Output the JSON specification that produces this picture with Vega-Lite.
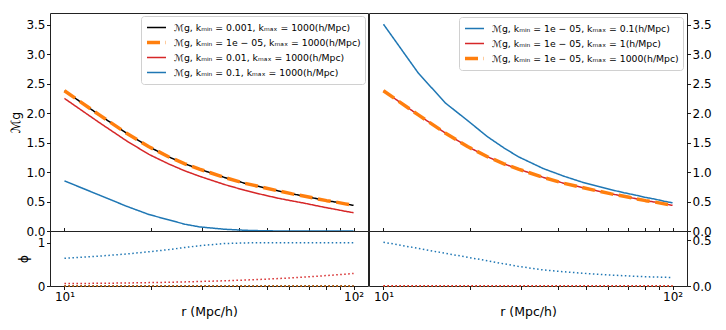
{
  "$schema": "https://vega.github.io/schema/vega-lite/v6.json",
  "padding": {"left": 9, "top": 12, "right": 5, "bottom": 5},
  "background": "white",
  "columns": 2,
  "bounds": "flush",
  "spacing": {"row": 0, "column": 1},
  "datasets": {
    "tl": [
      {"r":10,"s":"k3","v":2.38},{"r":13.2,"s":"k3","v":1.97},{"r":16.4,"s":"k3","v":1.66},{"r":19.6,"s":"k3","v":1.43},{"r":22.9,"s":"k3","v":1.26},{"r":26.1,"s":"k3","v":1.14},{"r":29.3,"s":"k3","v":1.05},{"r":35.7,"s":"k3","v":0.91},{"r":42.1,"s":"k3","v":0.81},{"r":48.6,"s":"k3","v":0.74},{"r":55,"s":"k3","v":0.68},{"r":61.4,"s":"k3","v":0.63},{"r":67.9,"s":"k3","v":0.59},{"r":74.3,"s":"k3","v":0.55},{"r":80.7,"s":"k3","v":0.515},{"r":87.1,"s":"k3","v":0.49},{"r":93.6,"s":"k3","v":0.46},{"r":100,"s":"k3","v":0.435},
      {"r":10,"s":"k5","v":2.38},{"r":13.2,"s":"k5","v":1.97},{"r":16.4,"s":"k5","v":1.66},{"r":19.6,"s":"k5","v":1.43},{"r":22.9,"s":"k5","v":1.26},{"r":26.1,"s":"k5","v":1.14},{"r":29.3,"s":"k5","v":1.05},{"r":35.7,"s":"k5","v":0.91},{"r":42.1,"s":"k5","v":0.81},{"r":48.6,"s":"k5","v":0.74},{"r":55,"s":"k5","v":0.68},{"r":61.4,"s":"k5","v":0.63},{"r":67.9,"s":"k5","v":0.59},{"r":74.3,"s":"k5","v":0.55},{"r":80.7,"s":"k5","v":0.515},{"r":87.1,"s":"k5","v":0.49},{"r":93.6,"s":"k5","v":0.46},{"r":100,"s":"k5","v":0.435},
      {"r":10,"s":"k2","v":2.25},{"r":13.2,"s":"k2","v":1.84},{"r":16.4,"s":"k2","v":1.53},{"r":19.6,"s":"k2","v":1.30},{"r":22.9,"s":"k2","v":1.14},{"r":26.1,"s":"k2","v":1.02},{"r":29.3,"s":"k2","v":0.93},{"r":35.7,"s":"k2","v":0.79},{"r":42.1,"s":"k2","v":0.69},{"r":48.6,"s":"k2","v":0.615},{"r":55,"s":"k2","v":0.555},{"r":61.4,"s":"k2","v":0.51},{"r":67.9,"s":"k2","v":0.47},{"r":74.3,"s":"k2","v":0.43},{"r":80.7,"s":"k2","v":0.395},{"r":87.1,"s":"k2","v":0.365},{"r":93.6,"s":"k2","v":0.335},{"r":100,"s":"k2","v":0.31},
      {"r":10,"s":"k1","v":0.85},{"r":13.2,"s":"k1","v":0.61},{"r":16.4,"s":"k1","v":0.42},{"r":19.6,"s":"k1","v":0.28},{"r":22.9,"s":"k1","v":0.19},{"r":26.1,"s":"k1","v":0.115},{"r":29.3,"s":"k1","v":0.07},{"r":35.7,"s":"k1","v":0.03},{"r":42.1,"s":"k1","v":0.012},{"r":48.6,"s":"k1","v":0.004},{"r":55,"s":"k1","v":0.001},{"r":61.4,"s":"k1","v":0},{"r":67.9,"s":"k1","v":0},{"r":74.3,"s":"k1","v":0},{"r":80.7,"s":"k1","v":0},{"r":87.1,"s":"k1","v":0},{"r":93.6,"s":"k1","v":0},{"r":100,"s":"k1","v":0}
    ],
    "tr": [
      {"r":10,"s":"m1","v":3.51},{"r":13.2,"s":"m1","v":2.68},{"r":16.4,"s":"m1","v":2.17},{"r":19.6,"s":"m1","v":1.87},{"r":22.9,"s":"m1","v":1.60},{"r":26.1,"s":"m1","v":1.41},{"r":29.3,"s":"m1","v":1.26},{"r":35.7,"s":"m1","v":1.06},{"r":42.1,"s":"m1","v":0.93},{"r":48.6,"s":"m1","v":0.83},{"r":55,"s":"m1","v":0.76},{"r":61.4,"s":"m1","v":0.70},{"r":67.9,"s":"m1","v":0.65},{"r":74.3,"s":"m1","v":0.61},{"r":80.7,"s":"m1","v":0.57},{"r":87.1,"s":"m1","v":0.54},{"r":93.6,"s":"m1","v":0.505},{"r":100,"s":"m1","v":0.478},
      {"r":10,"s":"m0","v":2.38},{"r":13.2,"s":"m0","v":1.97},{"r":16.4,"s":"m0","v":1.66},{"r":19.6,"s":"m0","v":1.43},{"r":22.9,"s":"m0","v":1.26},{"r":26.1,"s":"m0","v":1.14},{"r":29.3,"s":"m0","v":1.05},{"r":35.7,"s":"m0","v":0.91},{"r":42.1,"s":"m0","v":0.81},{"r":48.6,"s":"m0","v":0.74},{"r":55,"s":"m0","v":0.68},{"r":61.4,"s":"m0","v":0.63},{"r":67.9,"s":"m0","v":0.59},{"r":74.3,"s":"m0","v":0.55},{"r":80.7,"s":"m0","v":0.515},{"r":87.1,"s":"m0","v":0.49},{"r":93.6,"s":"m0","v":0.46},{"r":100,"s":"m0","v":0.435},
      {"r":10,"s":"m3","v":2.38},{"r":13.2,"s":"m3","v":1.97},{"r":16.4,"s":"m3","v":1.66},{"r":19.6,"s":"m3","v":1.43},{"r":22.9,"s":"m3","v":1.26},{"r":26.1,"s":"m3","v":1.14},{"r":29.3,"s":"m3","v":1.05},{"r":35.7,"s":"m3","v":0.91},{"r":42.1,"s":"m3","v":0.81},{"r":48.6,"s":"m3","v":0.74},{"r":55,"s":"m3","v":0.68},{"r":61.4,"s":"m3","v":0.63},{"r":67.9,"s":"m3","v":0.59},{"r":74.3,"s":"m3","v":0.55},{"r":80.7,"s":"m3","v":0.515},{"r":87.1,"s":"m3","v":0.49},{"r":93.6,"s":"m3","v":0.46},{"r":100,"s":"m3","v":0.435}
    ],
    "bl": [
      {"r":10,"s":"k3","v":0.003},{"r":13.2,"s":"k3","v":0.003},{"r":16.4,"s":"k3","v":0.003},{"r":19.6,"s":"k3","v":0.003},{"r":22.9,"s":"k3","v":0.003},{"r":26.1,"s":"k3","v":0.003},{"r":29.3,"s":"k3","v":0.003},{"r":35.7,"s":"k3","v":0.003},{"r":42.1,"s":"k3","v":0.003},{"r":48.6,"s":"k3","v":0.003},{"r":55,"s":"k3","v":0.003},{"r":61.4,"s":"k3","v":0.003},{"r":67.9,"s":"k3","v":0.003},{"r":74.3,"s":"k3","v":0.003},{"r":80.7,"s":"k3","v":0.003},{"r":87.1,"s":"k3","v":0.003},{"r":93.6,"s":"k3","v":0.003},{"r":100,"s":"k3","v":0.003},
      {"r":10,"s":"k5","v":0},{"r":13.2,"s":"k5","v":0},{"r":16.4,"s":"k5","v":0},{"r":19.6,"s":"k5","v":0},{"r":22.9,"s":"k5","v":0},{"r":26.1,"s":"k5","v":0},{"r":29.3,"s":"k5","v":0},{"r":35.7,"s":"k5","v":0},{"r":42.1,"s":"k5","v":0},{"r":48.6,"s":"k5","v":0},{"r":55,"s":"k5","v":0},{"r":61.4,"s":"k5","v":0},{"r":67.9,"s":"k5","v":0},{"r":74.3,"s":"k5","v":0},{"r":80.7,"s":"k5","v":0},{"r":87.1,"s":"k5","v":0},{"r":93.6,"s":"k5","v":0},{"r":100,"s":"k5","v":0},
      {"r":10,"s":"k2","v":0.055},{"r":13.2,"s":"k2","v":0.062},{"r":16.4,"s":"k2","v":0.07},{"r":19.6,"s":"k2","v":0.078},{"r":22.9,"s":"k2","v":0.086},{"r":26.1,"s":"k2","v":0.095},{"r":29.3,"s":"k2","v":0.104},{"r":35.7,"s":"k2","v":0.12},{"r":42.1,"s":"k2","v":0.137},{"r":48.6,"s":"k2","v":0.155},{"r":55,"s":"k2","v":0.172},{"r":61.4,"s":"k2","v":0.19},{"r":67.9,"s":"k2","v":0.207},{"r":74.3,"s":"k2","v":0.224},{"r":80.7,"s":"k2","v":0.241},{"r":87.1,"s":"k2","v":0.258},{"r":93.6,"s":"k2","v":0.274},{"r":100,"s":"k2","v":0.29},
      {"r":10,"s":"k1","v":0.64},{"r":13.2,"s":"k1","v":0.69},{"r":16.4,"s":"k1","v":0.74},{"r":19.6,"s":"k1","v":0.79},{"r":22.9,"s":"k1","v":0.84},{"r":26.1,"s":"k1","v":0.89},{"r":29.3,"s":"k1","v":0.93},{"r":35.7,"s":"k1","v":0.98},{"r":42.1,"s":"k1","v":0.995},{"r":48.6,"s":"k1","v":1},{"r":55,"s":"k1","v":1},{"r":61.4,"s":"k1","v":1},{"r":67.9,"s":"k1","v":1},{"r":74.3,"s":"k1","v":1},{"r":80.7,"s":"k1","v":1},{"r":87.1,"s":"k1","v":1},{"r":93.6,"s":"k1","v":1},{"r":100,"s":"k1","v":1}
    ],
    "br": [
      {"r":10,"s":"m3","v":0},{"r":13.2,"s":"m3","v":0},{"r":16.4,"s":"m3","v":0},{"r":19.6,"s":"m3","v":0},{"r":22.9,"s":"m3","v":0},{"r":26.1,"s":"m3","v":0},{"r":29.3,"s":"m3","v":0},{"r":35.7,"s":"m3","v":0},{"r":42.1,"s":"m3","v":0},{"r":48.6,"s":"m3","v":0},{"r":55,"s":"m3","v":0},{"r":61.4,"s":"m3","v":0},{"r":67.9,"s":"m3","v":0},{"r":74.3,"s":"m3","v":0},{"r":80.7,"s":"m3","v":0},{"r":87.1,"s":"m3","v":0},{"r":93.6,"s":"m3","v":0},{"r":100,"s":"m3","v":0},
      {"r":10,"s":"m0","v":0.002},{"r":13.2,"s":"m0","v":0.002},{"r":16.4,"s":"m0","v":0.002},{"r":19.6,"s":"m0","v":0.002},{"r":22.9,"s":"m0","v":0.002},{"r":26.1,"s":"m0","v":0.002},{"r":29.3,"s":"m0","v":0.002},{"r":35.7,"s":"m0","v":0.002},{"r":42.1,"s":"m0","v":0.002},{"r":48.6,"s":"m0","v":0.002},{"r":55,"s":"m0","v":0.002},{"r":61.4,"s":"m0","v":0.002},{"r":67.9,"s":"m0","v":0.002},{"r":74.3,"s":"m0","v":0.002},{"r":80.7,"s":"m0","v":0.002},{"r":87.1,"s":"m0","v":0.002},{"r":93.6,"s":"m0","v":0.002},{"r":100,"s":"m0","v":0.002},
      {"r":10,"s":"m1","v":0.478},{"r":13.2,"s":"m1","v":0.41},{"r":16.4,"s":"m1","v":0.356},{"r":19.6,"s":"m1","v":0.313},{"r":22.9,"s":"m1","v":0.275},{"r":26.1,"s":"m1","v":0.242},{"r":29.3,"s":"m1","v":0.214},{"r":35.7,"s":"m1","v":0.175},{"r":42.1,"s":"m1","v":0.155},{"r":48.6,"s":"m1","v":0.14},{"r":55,"s":"m1","v":0.128},{"r":61.4,"s":"m1","v":0.119},{"r":67.9,"s":"m1","v":0.112},{"r":74.3,"s":"m1","v":0.106},{"r":80.7,"s":"m1","v":0.101},{"r":87.1,"s":"m1","v":0.098},{"r":93.6,"s":"m1","v":0.095},{"r":100,"s":"m1","v":0.093}
    ]
  },
  "concat": [
    {
      "width": 318, "height": 218,
      "data": {"name": "tl"},
      "encoding": {
        "x": {"field": "r", "type": "quantitative", "scale": {"type": "log", "domain": [8.913, 112.2], "nice": false}, "axis": {"values": [10,20,30,40,50,60,70,80,90,100], "labels": false, "title": null, "tickSize": -3.5}},
        "y": {"field": "v", "type": "quantitative", "scale": {"domain": [0, 3.7], "nice": false}, "axis": {"values": [0,0.5,1,1.5,2,2.5,3,3.5], "format": ".1f", "title": "ℳg", "titlePadding": 3}},
        "color": {"field": "s", "type": "nominal", "scale": {"domain": ["k3","k5","k2","k1"], "range": ["#000000","#ff7f0e","#d62728","#1f77b4"]},
          "legend": {"orient": "top-right", "offset": 3, "title": null, "labelExpr": "datum.value == 'k3' ? 'ℳg, kₘᵢₙ = 0.001, kₘₐₓ = 1000(h/Mpc)' : datum.value == 'k5' ? 'ℳg, kₘᵢₙ = 1e − 05, kₘₐₓ = 1000(h/Mpc)' : datum.value == 'k2' ? 'ℳg, kₘᵢₙ = 0.01, kₘₐₓ = 1000(h/Mpc)' : 'ℳg, kₘᵢₙ = 0.1, kₘₐₓ = 1000(h/Mpc)'"}},
        "strokeDash": {"field": "s", "type": "nominal", "scale": {"domain": ["k3","k5","k2","k1"], "range": [[1,0],[13,5.6],[1,0],[1,0]]}},
        "strokeWidth": {"field": "s", "type": "nominal", "scale": {"type": "ordinal", "domain": ["k3","k5","k2","k1"], "range": [1.5,3.5,1.5,1.5]}}
      },
      "layer": [
        {"transform": [{"filter": "datum.s == 'k3'"}], "mark": {"type": "line"}},
        {"transform": [{"filter": "datum.s == 'k5'"}], "mark": {"type": "line"}},
        {"transform": [{"filter": "datum.s == 'k2'"}], "mark": {"type": "line"}},
        {"transform": [{"filter": "datum.s == 'k1'"}], "mark": {"type": "line"}}
      ]
    },
    {
      "width": 318, "height": 218,
      "data": {"name": "tr"},
      "encoding": {
        "x": {"field": "r", "type": "quantitative", "scale": {"type": "log", "domain": [8.913, 112.2], "nice": false}, "axis": {"values": [10,20,30,40,50,60,70,80,90,100], "labels": false, "title": null, "tickSize": -3.5}},
        "y": {"field": "v", "type": "quantitative", "scale": {"domain": [0, 3.7], "nice": false}, "axis": {"orient": "right", "values": [0,0.5,1,1.5,2,2.5,3,3.5], "format": ".1f", "title": null}},
        "color": {"field": "s", "type": "nominal", "scale": {"domain": ["m1","m0","m3"], "range": ["#1f77b4","#d62728","#ff7f0e"]},
          "legend": {"orient": "top-right", "offset": 4, "title": null, "labelExpr": "datum.value == 'm1' ? 'ℳg, kₘᵢₙ = 1e − 05, kₘₐₓ = 0.1(h/Mpc)' : datum.value == 'm0' ? 'ℳg, kₘᵢₙ = 1e − 05, kₘₐₓ = 1(h/Mpc)' : 'ℳg, kₘᵢₙ = 1e − 05, kₘₐₓ = 1000(h/Mpc)'"}},
        "strokeDash": {"field": "s", "type": "nominal", "scale": {"domain": ["m1","m0","m3"], "range": [[1,0],[1,0],[13,5.6]]}},
        "strokeWidth": {"field": "s", "type": "nominal", "scale": {"type": "ordinal", "domain": ["m1","m0","m3"], "range": [1.5,1.5,3.5]}}
      },
      "layer": [
        {"transform": [{"filter": "datum.s == 'm1'"}], "mark": {"type": "line"}},
        {"transform": [{"filter": "datum.s == 'm0'"}], "mark": {"type": "line"}},
        {"transform": [{"filter": "datum.s == 'm3'"}], "mark": {"type": "line"}}
      ]
    },
    {
      "width": 318, "height": 55,
      "data": {"name": "bl"},
      "encoding": {
        "x": {"field": "r", "type": "quantitative", "scale": {"type": "log", "domain": [8.913, 112.2], "nice": false}, "axis": {"values": [10,20,30,40,50,60,70,80,90,100], "title": "r (Mpc/h)", "labelExpr": "datum.value == 10 ? '10¹' : datum.value == 100 ? '10²' : ''", "titlePadding": 3}},
        "y": {"field": "v", "type": "quantitative", "scale": {"domain": [0, 1.27], "nice": false}, "axis": {"values": [0, 1], "format": "d", "title": "ϕ", "titlePadding": 7}},
        "color": {"field": "s", "type": "nominal", "scale": {"domain": ["k3","k5","k2","k1"], "range": ["#000000","#ff7f0e","#d62728","#1f77b4"]}, "legend": null}
      },
      "layer": [
        {"transform": [{"filter": "datum.s == 'k3'"}], "mark": {"type": "line", "strokeDash": [1.5, 2.5], "strokeWidth": 1.5}},
        {"transform": [{"filter": "datum.s == 'k5'"}], "mark": {"type": "line", "strokeDash": [1.5, 2.5], "strokeWidth": 1.5}},
        {"transform": [{"filter": "datum.s == 'k2'"}], "mark": {"type": "line", "strokeDash": [1.5, 2.5], "strokeWidth": 1.5}},
        {"transform": [{"filter": "datum.s == 'k1'"}], "mark": {"type": "line", "strokeDash": [1.5, 2.5], "strokeWidth": 1.5}}
      ]
    },
    {
      "width": 318, "height": 55,
      "data": {"name": "br"},
      "encoding": {
        "x": {"field": "r", "type": "quantitative", "scale": {"type": "log", "domain": [8.913, 112.2], "nice": false}, "axis": {"values": [10,20,30,40,50,60,70,80,90,100], "title": "r (Mpc/h)", "labelExpr": "datum.value == 10 ? '10¹' : datum.value == 100 ? '10²' : ''", "titlePadding": 3}},
        "y": {"field": "v", "type": "quantitative", "scale": {"domain": [0, 0.6], "nice": false}, "axis": {"orient": "right", "values": [0, 0.5], "format": ".1f", "title": null}},
        "color": {"field": "s", "type": "nominal", "scale": {"domain": ["m3","m0","m1"], "range": ["#ff7f0e","#d62728","#1f77b4"]}, "legend": null}
      },
      "layer": [
        {"transform": [{"filter": "datum.s == 'm3'"}], "mark": {"type": "line", "strokeDash": [1.5, 2.5], "strokeWidth": 1.5}},
        {"transform": [{"filter": "datum.s == 'm0'"}], "mark": {"type": "line", "strokeDash": [1.5, 2.5], "strokeWidth": 1.5}},
        {"transform": [{"filter": "datum.s == 'm1'"}], "mark": {"type": "line", "strokeDash": [1.5, 2.5], "strokeWidth": 1.5}}
      ]
    }
  ],
  "resolve": {
    "scale": {"x": "independent", "y": "independent", "color": "independent", "strokeDash": "independent", "strokeWidth": "independent"},
    "legend": {"color": "independent", "strokeDash": "independent", "strokeWidth": "independent"}
  },
  "config": {
    "font": "DejaVu Sans",
    "view": {"stroke": "#222222", "strokeWidth": 1},
    "line": {"strokeCap": "butt", "strokeJoin": "round"},
    "axis": {"grid": false, "domain": false, "tickColor": "#000000", "tickSize": 3.5, "tickWidth": 0.9, "labelColor": "#000000", "titleColor": "#000000", "labelFontSize": 12, "titleFontSize": 12.5, "titleFontWeight": "normal", "labelPadding": 1.5, "labelFont": "DejaVu Sans", "titleFont": "DejaVu Sans"},
    "legend": {"fillColor": "#ffffff", "strokeColor": "#d0d0d0", "cornerRadius": 3, "padding": 4, "symbolType": "stroke", "symbolSize": 361, "labelFontSize": 9.3, "labelFont": "DejaVu Sans", "labelColor": "#000000", "labelLimit": 400, "rowPadding": 0, "clipHeight": 15, "labelOffset": 6}
  }
}
